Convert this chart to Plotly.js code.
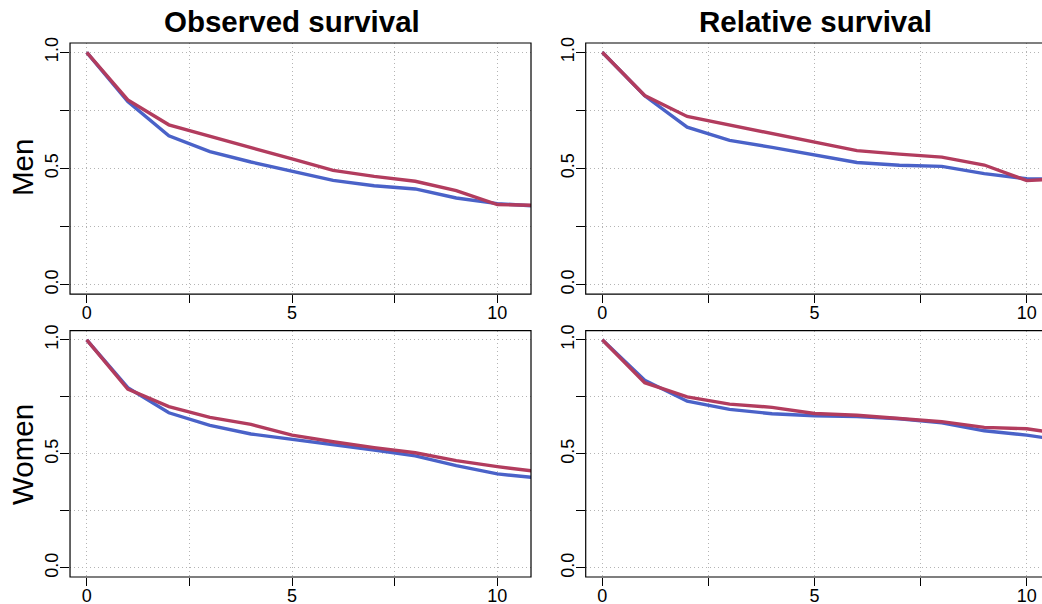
<!DOCTYPE html>
<html>
<head>
<meta charset="utf-8">
<script src="https://cdn.plot.ly/plotly-3.0.1.min.js"></script>
<style>html,body{margin:0;padding:0;background:#fff;}#chart{width:1042px;height:604px;}</style>
</head>
<body>
<div id="chart"></div>
<script>
// Years since diagnosis
const years = [0, 1, 2, 3, 4, 5, 6, 7, 8, 9, 10, 11];

// Observed survival, men
const obsMenBlue = [1.0, 0.788, 0.641, 0.573, 0.528, 0.488, 0.449, 0.426, 0.412, 0.373, 0.349, 0.338];
const obsMenRed  = [1.0, 0.795, 0.688, 0.638, 0.588, 0.541, 0.492, 0.466, 0.445, 0.405, 0.345, 0.341];
// Relative survival, men
const relMenBlue = [1.0, 0.813, 0.678, 0.621, 0.591, 0.559, 0.526, 0.514, 0.509, 0.478, 0.456, 0.453];
const relMenRed  = [1.0, 0.814, 0.724, 0.688, 0.652, 0.614, 0.577, 0.562, 0.549, 0.515, 0.448, 0.459];
// Observed survival, women
const obsWomenBlue = [1.0, 0.790, 0.680, 0.625, 0.587, 0.564, 0.542, 0.517, 0.491, 0.448, 0.412, 0.394];
const obsWomenRed  = [1.0, 0.784, 0.707, 0.660, 0.629, 0.582, 0.553, 0.527, 0.505, 0.470, 0.444, 0.422];
// Relative survival, women
const relWomenBlue = [1.0, 0.823, 0.731, 0.695, 0.676, 0.667, 0.663, 0.654, 0.636, 0.601, 0.582, 0.555];
const relWomenRed  = [1.0, 0.812, 0.750, 0.718, 0.704, 0.677, 0.669, 0.655, 0.641, 0.616, 0.610, 0.582];

const colTitles = ["Observed survival", "Relative survival"];
const rowTitles = ["Men", "Women"];
const xTickVals = [0, 2.5, 5, 7.5, 10];
const xTickText = ["0", "", "5", "", "10"];
const yTickVals = [0, 0.25, 0.5, 0.75, 1];
const yTickText = ["0.0", "", "0.5", "", "1.0"];

const BLUE = "#4a62c8";
const RED = "#b23c5e";
const LW = 3.4;

function tr(y, color, xa, ya) {
  return {x: years, y: y, type: "scatter", mode: "lines", xaxis: xa, yaxis: ya,
          line: {color: color, width: LW}, hoverinfo: "skip", showlegend: false};
}

const data = [
  tr(obsMenBlue, BLUE, "x", "y"), tr(obsMenRed, RED, "x", "y"),
  tr(relMenBlue, BLUE, "x2", "y2"), tr(relMenRed, RED, "x2", "y2"),
  tr(obsWomenBlue, BLUE, "x3", "y3"), tr(obsWomenRed, RED, "x3", "y3"),
  tr(relWomenBlue, BLUE, "x4", "y4"), tr(relWomenRed, RED, "x4", "y4")
];

const FONT = "Liberation Sans, Arial, sans-serif";
const tickFont = {family: FONT, size: 18, color: "#000"};
const gridCol = "#b4b4b4";

function xax(domain, range, anchor) {
  return {domain: domain, range: range, anchor: anchor, tickmode: "array", tickvals: xTickVals, ticktext: xTickText,
          ticks: "outside", ticklen: 8, tickwidth: 1, tickcolor: "#000", tickfont: tickFont, ticklabelstandoff: -6,
          showgrid: true, gridcolor: gridCol, gridwidth: 1, griddash: "1px,3px",
          zeroline: false, showline: false, fixedrange: true};
}
function yax(domain, anchor) {
  return {domain: domain, range: [-0.04, 1.04], anchor: anchor, tickmode: "array", tickvals: yTickVals, ticktext: yTickText,
          ticks: "outside", ticklen: 9, tickwidth: 1, tickcolor: "#000", tickfont: tickFont, tickangle: -90, ticklabelstandoff: -5,
          showgrid: true, gridcolor: gridCol, gridwidth: 1, griddash: "1px,3px",
          zeroline: false, showline: false, fixedrange: true};
}

const LX = [0.0672, 0.5096], RX = [0.5621, 1.0];
const TY = [0.5132, 0.9288], BY = [0.0447, 0.4525];
const LR = [-0.407, 10.82], RR = [-0.39, 10.36];

function box(x, y) {
  return {type: "rect", xref: "paper", yref: "paper", x0: x[0], x1: x[1], y0: y[0], y1: y[1],
          line: {color: "#000", width: 1.2}, fillcolor: "rgba(0,0,0,0)", layer: "above"};
}

const layout = {
  width: 1042, height: 604,
  margin: {l: 0, r: 0, t: 0, b: 0},
  paper_bgcolor: "#fff", plot_bgcolor: "#fff",
  showlegend: false,
  xaxis: xax(LX, LR, "y"), yaxis: yax(TY, "x"),
  xaxis2: xax(RX, RR, "y2"), yaxis2: yax(TY, "x2"),
  xaxis3: xax(LX, LR, "y3"), yaxis3: yax(BY, "x3"),
  xaxis4: xax(RX, RR, "y4"), yaxis4: yax(BY, "x4"),
  shapes: [box(LX, TY), box([RX[0], 1.05], TY), box(LX, BY), box([RX[0], 1.05], BY)],
  annotations: [
    {text: "<b>" + colTitles[0] + "</b>", xref: "paper", yref: "paper", x: 291.7 / 1042, y: 1 - 21.5 / 604,
     xanchor: "center", yanchor: "middle", showarrow: false, font: {family: FONT, size: 29.5, color: "#000"}},
    {text: "<b>" + colTitles[1] + "</b>", xref: "paper", yref: "paper", x: 815 / 1042, y: 1 - 21.5 / 604,
     xanchor: "center", yanchor: "middle", showarrow: false, font: {family: FONT, size: 29.5, color: "#000"}},
    {text: rowTitles[0], xref: "paper", yref: "paper", x: 22 / 1042, y: 1 - 168 / 604, textangle: -90,
     xanchor: "center", yanchor: "middle", showarrow: false, font: {family: FONT, size: 29.5, color: "#000"}},
    {text: rowTitles[1], xref: "paper", yref: "paper", x: 22 / 1042, y: 1 - 455 / 604, textangle: -90,
     xanchor: "center", yanchor: "middle", showarrow: false, font: {family: FONT, size: 29.5, color: "#000"}}
  ]
};

Plotly.newPlot("chart", data, layout, {staticPlot: true, displayModeBar: false});
</script>
</body>
</html>
